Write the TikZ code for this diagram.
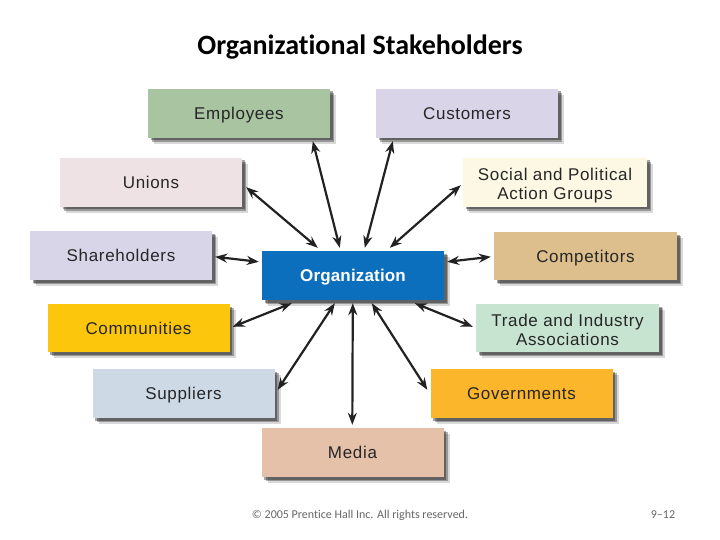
\documentclass[tikz,border=0pt]{standalone}
\usepackage{fontspec}
\setmainfont{Liberation Sans}
\newfontfamily\boxfont{Liberation Sans}[LetterSpace=4]
\newfontfamily\orgfont{Liberation Sans}[LetterSpace=1]
\newfontfamily\titlefont{Carlito}[Ligatures=NoCommon]
\usetikzlibrary{arrows.meta,shadows,calc}
\definecolor{cEmp}{HTML}{A8C4A0}
\definecolor{cCus}{HTML}{D9D4E8}
\definecolor{cUni}{HTML}{EEE2E5}
\definecolor{cSoc}{HTML}{FDF8E3}
\definecolor{cSha}{HTML}{D9D5E9}
\definecolor{cOrg}{HTML}{0B6FBE}
\definecolor{cCom}{HTML}{DCBF8C}
\definecolor{cCmm}{HTML}{FCC60C}
\definecolor{cTra}{HTML}{C7E4D1}
\definecolor{cSup}{HTML}{CDDAE6}
\definecolor{cGov}{HTML}{FBB62B}
\definecolor{cMed}{HTML}{E6C1AA}
\definecolor{cArr}{HTML}{222222}
\newcommand{\twoline}[2]{\raisebox{-4pt}[\height][\depth]{\begin{tabular}{@{}c@{}}#1\\#2\end{tabular}}}
\begin{document}
\begin{tikzpicture}[x=1pt,y=-1pt,
  sbox/.style={rectangle, inner sep=0pt, minimum width=182pt, minimum height=49pt,
    font=\boxfont\fontsize{17}{19}\selectfont, text=black!85,
    general shadow={shadow xshift=6pt, shadow yshift=-6pt, fill=black, opacity=.15},
    general shadow={shadow xshift=4pt, shadow yshift=-4pt, fill=black, opacity=.3},
    general shadow={shadow xshift=2.5pt, shadow yshift=-2.5pt, fill=black, opacity=.35}},
  oneline/.style={text height=12.5pt, text depth=0pt},
  arr/.style={{Stealth[length=12pt,width=9pt]}-{Stealth[length=12pt,width=9pt]}, line width=2.2pt, draw=cArr}]
\useasboundingbox[fill=white] (0,0) rectangle (720,540);

\node[font=\titlefont\bfseries\fontsize{28}{32}\selectfont] (title) at (360,47) {Organizational Stakeholders};

\node[sbox, oneline, fill=cEmp] (emp) at (239,113.5) {Employees};
\node[sbox, oneline, fill=cCus] (cus) at (467,113.5) {Customers};
\node[sbox, oneline, fill=cUni] (uni) at (151,182.5) {Unions};
\node[sbox, fill=cSoc, minimum width=184pt] (soc) at (555,182.5) {\twoline{Social and Political}{Action Groups}};
\node[sbox, oneline, fill=cSha] (sha) at (121,255.5) {Shareholders};
\node[sbox, oneline, fill=cOrg, text=white, font=\orgfont\bfseries\fontsize{17}{19}\selectfont] (org) at (353,275.5) {Organization};
\node[sbox, oneline, fill=cCom, minimum width=183pt, minimum height=48pt] (com) at (585.5,256) {Competitors};
\node[sbox, oneline, fill=cCmm, minimum height=48pt] (cmm) at (138.5,328) {Communities};
\node[sbox, fill=cTra, minimum width=183pt, minimum height=48pt] (tra) at (567.5,328) {\twoline{Trade and Industry}{Associations}};
\node[sbox, oneline, fill=cSup] (sup) at (183.5,393.5) {Suppliers};
\node[sbox, oneline, fill=cGov] (gov) at (521.5,393.5) {Governments};
\node[sbox, oneline, fill=cMed] (med) at (352.5,452.5) {Media};

\draw[arr] ($(org.north west)+(78,-3)$) -- ($(emp.south west)+(165,3)$);
\draw[arr] ($(org.north west)+(103,-3)$) -- ($(cus.south west)+(17,3)$);
\draw[arr] ($(org.north west)+(56,-3)$) -- ($(uni.south east)+(4,-20)$);
\draw[arr] ($(org.north west)+(128,-3)$) -- ($(soc.south west)+(-2,-22)$);
\draw[arr] ($(org.north west)+(-3,11)$) -- ($(sha.north east)+(3,26)$);
\draw[arr] ($(org.north east)+(3,11)$) -- ($(com.north west)+(-3,25)$);
\draw[arr] ($(org.south west)+(30,3)$) -- ($(cmm.north east)+(3,23)$);
\draw[arr] ($(org.south west)+(153,3)$) -- ($(tra.north west)+(-3,23)$);
\draw[arr] ($(org.south west)+(73,3)$) -- ($(sup.north east)+(3,21)$);
\draw[arr] ($(org.south west)+(110,3)$) -- ($(gov.north west)+(-3,21)$);
\draw[arr] ($(org.south west)+(91,3)$) -- ($(med.north west)+(91,-3)$);

\node[font=\titlefont\fontsize{12}{14}\selectfont, text=black!60] (copy) at (360,515) {© 2005 Prentice Hall Inc. All rights reserved.};
\node[font=\titlefont\fontsize{12}{14}\selectfont, text=black!60] (page) at (663,515) {9–12};
\end{tikzpicture}
\end{document}
